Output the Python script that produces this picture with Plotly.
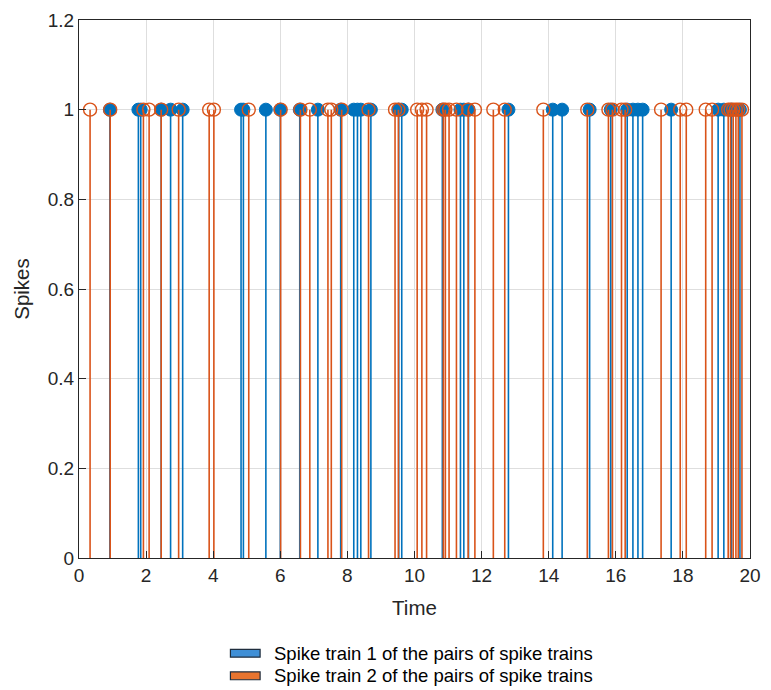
import plotly.graph_objects as go

# Spike times
train1_times = [0.92, 1.77, 1.84, 2.45, 2.73, 3.09, 4.83, 4.90, 5.57, 6.00, 6.58,
                7.12, 7.80, 8.19, 8.30, 8.40, 8.70, 9.53, 9.62, 10.83, 11.37, 11.47,
                11.61, 12.80, 14.12, 14.40, 15.22, 15.85, 16.34, 16.51, 16.66, 16.80,
                17.65, 19.05, 19.22, 19.45, 19.70]
train1_values = [1, 1, 1, 1, 1, 1, 1, 1, 1, 1, 1,
                 1, 1, 1, 1, 1, 1, 1, 1, 1, 1, 1,
                 1, 1, 1, 1, 1, 1, 1, 1, 1, 1,
                 1, 1, 1, 1, 1]

train2_times = [0.33, 0.93, 1.92, 2.09, 2.45, 2.97, 3.88, 4.02, 5.06, 6.01, 6.60,
                6.88, 7.42, 7.52, 7.83, 8.63, 9.42, 9.52, 10.08, 10.22, 10.36, 10.86,
                10.92, 11.03, 11.25, 11.60, 11.80, 12.35, 12.69, 13.84, 15.15, 15.78,
                15.90, 16.17, 16.28, 17.35, 17.92, 18.10, 18.68, 18.87, 19.35, 19.42,
                19.50, 19.58, 19.65, 19.76]
train2_values = [1, 1, 1, 1, 1, 1, 1, 1, 1, 1, 1,
                 1, 1, 1, 1, 1, 1, 1, 1, 1, 1, 1,
                 1, 1, 1, 1, 1, 1, 1, 1, 1, 1,
                 1, 1, 1, 1, 1, 1, 1, 1, 1, 1,
                 1, 1, 1, 1]

x_ticks = [0, 2, 4, 6, 8, 10, 12, 14, 16, 18, 20]
y_ticks = [0, 0.2, 0.4, 0.6, 0.8, 1.0, 1.2]
y_tick_labels = ["0", "0.2", "0.4", "0.6", "0.8", "1", "1.2"]

legend_labels = ["Spike train 1 of the pairs of spike trains",
                 "Spike train 2 of the pairs of spike trains"]

BLUE = "#0072BD"
ORANGE = "#D95319"
FONT = "Liberation Sans, Arial, sans-serif"
TXT = "#262626"

fig = go.Figure()

fig.add_trace(go.Scatter(
    x=train1_times, y=train1_values, mode="markers",
    marker=dict(symbol="circle", size=13, color=BLUE, line=dict(color=BLUE, width=1)),
    error_y=dict(type="data", symmetric=False, array=[0] * len(train1_values),
                 arrayminus=train1_values, color=BLUE, thickness=1.6, width=0),
    showlegend=False, cliponaxis=False,
))
fig.add_trace(go.Scatter(
    x=train2_times, y=train2_values, mode="markers",
    marker=dict(symbol="circle-open", size=13, color=ORANGE, line=dict(color=ORANGE, width=1.4)),
    error_y=dict(type="data", symmetric=False, array=[0] * len(train2_values),
                 arrayminus=train2_values, color=ORANGE, thickness=1.6, width=0),
    showlegend=False, cliponaxis=False,
))

W, H = 771, 690
L, R, T, B = 79, 14, 10, 132
pw, ph = W - L - R, H - T - B

def px_x(px):
    return (px - L) / pw

def px_y(py):
    return (H - B - py) / ph

shapes = []
annotations = []
swatch_colors = ["#3f8fd6", "#e8742f"]
for i, (lab, col) in enumerate(zip(legend_labels, swatch_colors)):
    cy = 655 + 23 * i
    shapes.append(dict(type="rect", xref="paper", yref="paper",
                       x0=px_x(232), x1=px_x(262), y0=px_y(cy + 4), y1=px_y(cy - 4),
                       fillcolor=col, line=dict(color="#1f2d3d", width=1.2)))
    annotations.append(dict(xref="paper", yref="paper", x=px_x(274), y=px_y(cy),
                            xanchor="left", yanchor="middle", showarrow=False,
                            text=lab, font=dict(family=FONT, size=18.5, color="#000000")))

fig.update_layout(
    width=W, height=H,
    margin=dict(l=L, r=R, t=T, b=B),
    paper_bgcolor="white", plot_bgcolor="white",
    font=dict(family=FONT, size=18, color=TXT),
    shapes=shapes, annotations=annotations,
    xaxis=dict(range=[0, 20], tickvals=x_ticks, ticks="inside", ticklen=7,
               tickcolor=TXT, showline=True, mirror=True, linecolor=TXT, linewidth=1,
               showgrid=True, gridcolor="#dedede", gridwidth=1, zeroline=False,
               tickfont=dict(size=19, color=TXT),
               title=dict(text="Time", font=dict(size=20.5, color=TXT), standoff=15)),
    yaxis=dict(range=[0, 1.2], tickvals=y_ticks, ticktext=y_tick_labels, ticks="inside",
               ticklen=7, tickcolor=TXT, showline=True, mirror=True, linecolor=TXT,
               linewidth=1, showgrid=True, gridcolor="#dedede", gridwidth=1, zeroline=False,
               tickfont=dict(size=19, color=TXT),
               title=dict(text="Spikes", font=dict(size=20.5, color=TXT), standoff=12)),
)

fig.write_html("out.html")
